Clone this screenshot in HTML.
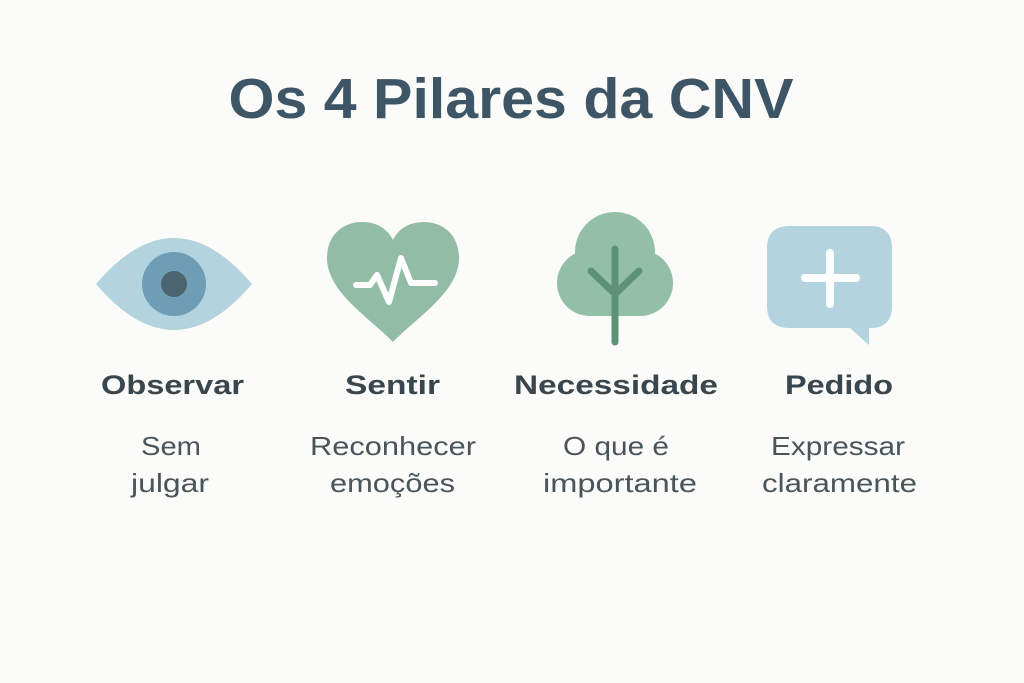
<!DOCTYPE html>
<html><head><meta charset="utf-8"><style>
html,body{margin:0;padding:0;background:#fbfbf9;}
svg{display:block}
</style></head><body>
<svg width="1024" height="683" viewBox="0 0 1024 683" xmlns="http://www.w3.org/2000/svg">
<rect width="1024" height="683" fill="#fbfbf9"/>
<text x="511" y="118" text-anchor="middle" font-family="Liberation Sans, sans-serif" font-weight="bold" font-size="57" fill="#3e5566" textLength="565" lengthAdjust="spacingAndGlyphs">Os 4 Pilares da CNV</text>

<!-- eye -->
<path d="M96,284 Q174,192 252,284 Q174,376 96,284 Z" fill="#b3d3de"/>
<circle cx="174" cy="284" r="32" fill="#6f9db3"/>
<circle cx="174" cy="284" r="13" fill="#4a6470"/>

<!-- heart -->
<path d="M393,342 C370,318 327,292 327,258 C327,234 344,222 362,222 C378,222 388,230 393,240 C398,230 408,222 424,222 C442,222 459,234 459,258 C459,292 416,318 393,342 Z" fill="#92bca6"/>
<polyline points="356,285 370,285 377,275 389,302 401,258 411,283 435,283" fill="none" stroke="#fff" stroke-width="6" stroke-linecap="round" stroke-linejoin="round"/>

<!-- tree -->
<g fill="#93bfa6">
<circle cx="615" cy="252" r="40"/>
<circle cx="590" cy="283" r="33"/>
<circle cx="640" cy="283" r="33"/>
<rect x="590" y="270" width="50" height="46"/>
</g>
<g stroke="#5d9276" stroke-width="7" stroke-linecap="round" fill="none">
<line x1="615" y1="249" x2="615" y2="342"/>
<polyline points="591,271 615,294 639,271"/>
</g>

<!-- bubble -->
<path d="M790,226 H870 Q892,226 892,248 V306 Q892,328 870,328 H869 V345 L850,328 H790 Q767,328 767,306 V248 Q767,226 790,226 Z" fill="#b3d3de"/>
<g stroke="#fff" stroke-width="8" stroke-linecap="round">
<line x1="830" y1="253" x2="830" y2="304"/>
<line x1="805" y1="278" x2="856" y2="278"/>
</g>

<g font-family="Liberation Sans, sans-serif" font-weight="bold" font-size="27" fill="#3a464d">
<text x="101" y="394" textLength="143" lengthAdjust="spacingAndGlyphs">Observar</text>
<text x="345" y="394" textLength="95" lengthAdjust="spacingAndGlyphs">Sentir</text>
<text x="514" y="394" textLength="204" lengthAdjust="spacingAndGlyphs">Necessidade</text>
<text x="785" y="394" textLength="108" lengthAdjust="spacingAndGlyphs">Pedido</text>
</g>
<g font-family="Liberation Sans, sans-serif" font-size="26" fill="#4a555b">
<text x="141" y="455" textLength="60" lengthAdjust="spacingAndGlyphs">Sem</text>
<text x="131" y="492" textLength="78" lengthAdjust="spacingAndGlyphs">julgar</text>
<text x="310" y="455" textLength="166" lengthAdjust="spacingAndGlyphs">Reconhecer</text>
<text x="330" y="492" textLength="125" lengthAdjust="spacingAndGlyphs">emoções</text>
<text x="563" y="455" textLength="106" lengthAdjust="spacingAndGlyphs">O que é</text>
<text x="543" y="492" textLength="154" lengthAdjust="spacingAndGlyphs">importante</text>
<text x="771" y="455" textLength="134" lengthAdjust="spacingAndGlyphs">Expressar</text>
<text x="762" y="492" textLength="155" lengthAdjust="spacingAndGlyphs">claramente</text>
</g>
</svg>
</body></html>
